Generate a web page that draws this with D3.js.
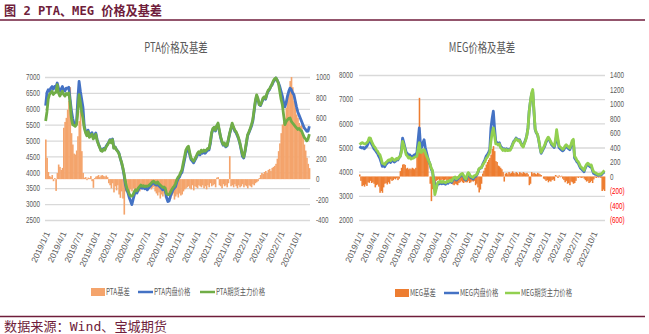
<!DOCTYPE html>
<html>
<head>
<meta charset="utf-8">
<script src="https://cdn.jsdelivr.net/npm/d3@7"></script>
<style>
html, body { margin: 0; padding: 0; background: #fff; }
svg { display: block; }
</style>
</head>
<body>
<svg id="fig" width="649" height="334"></svg>
<script>
// Weekly observations starting 2019/1/1
const startDate = "2019/1/1";

// Quarterly category labels on the date axis
const dateTicks = ["2019/1/1","2019/4/1","2019/7/1","2019/10/1","2020/1/1","2020/4/1","2020/7/1","2020/10/1",
  "2021/1/1","2021/4/1","2021/7/1","2021/10/1","2022/1/1","2022/4/1","2022/7/1","2022/10/1"];

const ptaLeftTicks = [2500, 3000, 3500, 4000, 4500, 5000, 5500, 6000, 6500, 7000];
const ptaRightTicks = [-400, -200, 0, 200, 400, 600, 800, 1000];
const megLeftTicks = [2000, 3000, 4000, 5000, 6000, 7000, 8000];
const megRightTicks = [-600, -400, -200, 0, 200, 400, 600, 800, 1000, 1200, 1400];

// PTA spot (内盘) price, yuan/t
const ptaSpot = [
  6100,6500,6600,6550,6650,6700,6620,6700,6680,6810,
  6650,6560,6620,6700,6600,6560,6650,6640,6680,6300,
  5950,5700,5550,5500,5550,6300,6860,6550,6300,6050,
  5460,5300,5200,5330,5150,5200,5250,5100,5150,5240,
  5030,4900,4800,4700,4680,4750,4720,4820,4880,4950,
  5030,4950,5050,4770,4800,4720,4670,4600,4450,4300,
  4130,3900,3610,3450,3350,3200,3100,2985,3150,3300,
  3410,3350,3450,3500,3560,3500,3520,3480,3500,3450,
  3500,3550,3600,3650,3680,3620,3600,3650,3580,3540,
  3500,3450,3480,3420,3200,3080,3100,3250,3350,3450,
  3500,3550,3700,3800,3850,3950,4000,4200,4400,4600,
  4700,4750,4550,4400,4350,4300,4380,4450,4550,4600,
  4550,4650,4600,4650,4600,4650,4700,4700,4900,5200,
  5350,5400,5300,5450,5500,5300,5100,4950,4850,4900,
  4800,4830,5000,5200,5350,5500,5400,5300,5250,5150,
  5050,4900,4700,4500,4450,4650,4900,5150,5250,5350,
  5450,5600,5900,6200,6400,6300,6150,6100,6200,6300,
  6350,6300,6450,6550,6600,6700,6750,6850,6900,6970,
  6900,6810,6700,6550,6400,6200,6060,6200,6400,6550,
  6650,6600,6500,6440,6250,6060,5900,5800,5700,5600,
  5500,5400,5350,5290,5300,5450
];

// PTA main futures contract price
const ptaFutures = [
  5616,5900,6300,6450,6500,6550,6450,6500,6520,6760,
  6500,6400,6480,6550,6450,6400,6480,6450,6500,6200,
  5700,5500,5480,5450,5500,5900,6445,6200,5900,5700,
  5400,5250,5150,5280,5100,5150,5200,5050,5100,5200,
  5000,4880,4780,4680,4660,4730,4700,4800,4860,4930,
  5010,4930,5030,4760,4790,4710,4660,4590,4440,4320,
  4150,3950,3700,3520,3420,3320,3250,3250,3300,3400,
  3450,3420,3500,3550,3600,3560,3580,3550,3570,3560,
  3580,3620,3660,3700,3720,3680,3650,3700,3640,3600,
  3560,3520,3540,3500,3330,3300,3300,3380,3450,3520,
  3560,3650,3770,3850,3900,4000,4085,4300,4500,4700,
  4780,4820,4620,4450,4400,4350,4420,4500,4600,4650,
  4600,4700,4650,4700,4660,4700,4750,4750,4950,5250,
  5380,5420,5330,5470,5550,5330,5120,4980,4880,4920,
  4830,4850,5030,5230,5380,5550,5430,5330,5280,5190,
  5080,4930,4740,4560,4480,4680,4930,5180,5270,5380,
  5500,5650,5950,6250,6440,6330,6130,6120,6220,6340,
  6380,6330,6480,6580,6620,6700,6780,6880,6940,6970,
  6900,6800,6550,6300,6130,5800,5500,5600,5650,5700,
  5710,5600,5550,5500,5450,5400,5350,5380,5330,5300,
  5200,5100,5050,4990,5050,5200
];

// PTA basis (right axis)
const ptaBasis = [
  388,209,70,30,20,40,-20,10,-115,60,
  143,120,90,110,503,560,600,680,767,900,
  450,339,250,241,280,420,568,666,274,60,
  13,20,-10,15,10,30,-20,-85,10,25,
  30,40,20,35,40,30,25,35,20,-40,
  -60,-90,-40,-130,-70,-110,-60,-150,-183,-120,
  -190,-347,-120,-110,-90,-130,-100,-120,-90,-110,
  -130,-100,-90,-120,-100,-80,-70,-90,-100,-80,
  -90,-70,-100,-85,-75,-120,-140,-160,-130,-190,
  -150,-170,-140,-180,-120,-150,-130,-190,-160,-140,
  -200,-170,-150,-180,-140,-160,-150,-120,-100,-90,
  -80,-70,-90,-100,-60,-110,-70,-80,-90,-60,
  -70,-80,-60,-90,-70,-100,-60,-80,-40,-70,
  -60,-50,-80,15,20,-60,-70,-90,-50,-70,
  -60,-80,-40,225,-70,-60,-80,-50,-70,-90,
  -60,-80,-70,-50,-80,-60,-70,-90,-60,-70,
  -80,-50,-60,-40,-30,-20,10,40,60,50,
  70,80,60,90,100,80,110,120,130,150,
  200,274,350,450,535,560,600,700,829,880,
  960,1000,900,765,700,633,600,550,520,535,
  420,339,280,209,150,108
];

// MEG spot (内盘) price
const megSpot = [
  5050,5000,4980,5000,4950,5000,5050,5150,5300,5350,
  5150,5060,4950,4900,4820,4750,4640,4550,4400,4220,
  4250,4200,4300,4350,4400,4430,4380,4500,4450,4400,
  4430,4500,4480,4570,4650,4900,5390,5200,5000,4800,
  4750,4640,4700,4600,4640,4650,4700,4700,4800,5300,
  5810,5100,5000,5200,5320,5000,4800,4600,4430,4300,
  4100,4015,3700,3400,3300,3450,3530,3500,3550,3500,
  3550,3500,3480,3550,3520,3580,3600,3550,3650,3700,
  3740,3650,3700,3740,3800,3850,3880,3800,3700,3650,
  3800,3930,3850,3750,3740,3700,3780,3800,3850,3950,
  4100,4150,4160,4290,4400,4500,4640,4700,4800,4910,
  5810,6200,6500,5810,5260,5200,5150,5200,5050,5000,
  4910,4950,4900,4950,4900,4920,4910,5000,5120,5250,
  5300,5390,5350,5300,5320,5200,5100,5050,5200,5320,
  5500,5810,6500,6900,7190,7300,6500,5740,5600,5530,
  5300,5000,4760,4850,4950,5050,5200,5300,5390,5300,
  5200,5100,5050,5000,5200,5500,5300,5000,4950,4900,
  4860,4900,5000,5050,5000,4950,4910,5050,5200,5260,
  4570,4500,4400,4360,4250,4140,4100,4050,4000,4150,
  4250,4300,4250,4200,4220,4050,3930,3900,3880,3860,
  3850,3870,3860,3900,3950,3990
];

// MEG main futures contract price
const megFutures = [
  5200,5150,5200,5180,5150,5150,5200,5250,5400,5390,
  5250,5150,5050,5000,4900,4850,4750,4700,4550,4350,
  4330,4300,4380,4420,4470,4500,4450,4560,4520,4470,
  4480,4550,4520,4600,4620,4800,5250,5100,4900,4700,
  4650,4560,4600,4520,4550,4560,4600,4620,4650,4950,
  5200,4800,4800,4900,4910,4800,4650,4550,4430,4320,
  4150,4050,3600,3050,3250,3500,3580,3560,3600,3560,
  3600,3560,3540,3600,3580,3620,3650,3600,3700,3750,
  3780,3700,3750,3780,3850,3900,3930,3850,3750,3700,
  3850,3960,3900,3800,3790,3760,3830,3850,3880,3980,
  4120,4160,4170,4270,4350,4420,4550,4600,4700,4800,
  5260,5600,5810,5500,5150,5150,5100,5150,5000,4950,
  4880,4920,4870,4920,4870,4890,4880,4970,5090,5220,
  5270,5360,5320,5270,5290,5170,5070,5020,5170,5290,
  5480,5790,6480,6900,7250,7400,6550,5780,5620,5550,
  5320,5030,4800,4900,5000,5100,5250,5350,5430,5350,
  5250,5150,5100,5060,5300,5740,5400,5080,5020,4980,
  4930,4960,5060,5110,5060,5010,4970,5120,5280,5340,
  4650,4570,4460,4420,4320,4210,4170,4110,4060,4200,
  4300,4350,4310,4260,4280,4110,3990,3960,3940,3900,
  3880,3900,3890,3940,3990,4050
];

// MEG basis (right axis)
const megBasis = [
  28,-60,-133,-120,-140,-110,-130,-80,-87,-60,
  -90,-80,-100,-150,-120,-110,-140,-225,-200,-225,
  -150,-100,-90,-110,-80,-100,-40,-60,-50,-30,
  -40,-20,-50,-30,74,120,165,170,160,110,
  120,100,110,100,120,110,100,120,303,350,
  1085,441,349,360,340,350,300,257,0,-100,
  -340,-175,-120,-150,-60,-50,-40,-60,-50,-40,
  -60,-50,-40,-60,-50,-40,-60,-100,-110,-120,
  -100,-110,-120,-90,-80,-60,-80,-90,-70,-80,
  -80,-60,-90,-80,-60,-70,-60,-120,-100,-150,
  -220,-180,-100,40,80,120,165,200,230,257,
  300,380,419,350,212,200,150,140,120,100,
  60,-70,40,50,30,60,40,50,70,50,
  40,60,50,30,60,50,40,60,50,40,
  50,30,-120,-100,60,40,50,40,30,50,
  40,30,20,0,-30,-40,-60,-50,-80,-60,
  -70,-50,-40,-60,20,10,-20,15,-10,10,
  -30,-50,-80,-60,-100,-90,-120,-70,-80,-100,
  -90,-60,-10,-20,-10,-15,-20,-10,-30,-50,
  -70,-60,-90,-80,-60,-90,-40,-10,-20,-10,
  -15,-10,-20,-200,-180,-200
];

const svg = d3.select("#fig");
const GRAY = "#595959";
const MAROON = "#6F1D3B";
const LATIN = "'Liberation Sans', Arial, 'Noto Sans CJK SC', sans-serif";
const CJK = "'Noto Sans CJK SC', 'Liberation Sans', sans-serif";

const parseDay = s => { const [y, m, d] = s.split("/").map(Number); return new Date(y, m - 1, d); };
const t0 = parseDay(startDate);

// narrow the glyphs horizontally, keeping the anchor point
function squeeze(sel, k) {
  sel.each(function () {
    const w = this.getComputedTextLength();
    this.setAttribute("textLength", (w * k).toFixed(2));
    this.setAttribute("lengthAdjust", "spacingAndGlyphs");
  });
}

// Header and footer
svg.append("text").attr("x", 4).attr("y", 14.5)
  .attr("font-family", "'DejaVu Sans Mono', 'Noto Sans CJK SC', monospace")
  .attr("font-weight", "bold").attr("font-size", 13).attr("fill", MAROON)
  .text("图 2 PTA、MEG 价格及基差")
  .attr("textLength", 158).attr("lengthAdjust", "spacingAndGlyphs");
svg.append("line").attr("x1", 0).attr("x2", 645).attr("y1", 20).attr("y2", 20)
  .attr("stroke", MAROON).attr("stroke-width", 1.3);
svg.append("line").attr("x1", 0).attr("x2", 645).attr("y1", 316.5).attr("y2", 316.5)
  .attr("stroke", MAROON).attr("stroke-width", 1.3);
svg.append("text").attr("x", 4).attr("y", 331)
  .attr("font-family", "'DejaVu Sans Mono', 'Noto Sans CJK SC', monospace")
  .attr("font-size", 13).attr("fill", MAROON)
  .text("数据来源：Wind、宝城期货")
  .attr("textLength", 163).attr("lengthAdjust", "spacingAndGlyphs");

function drawChart(cfg) {
  const n = cfg.spot.length;
  const dates = d3.range(n + 1).map(i => d3.timeDay.offset(t0, 7 * i));
  const x = d3.scaleTime().domain([dates[0], dates[n]]).range([cfg.left, cfg.right]);
  const yL = d3.scaleLinear().domain(d3.extent(cfg.leftTicks)).range([cfg.bottom, cfg.top]);
  const yR = d3.scaleLinear().domain(d3.extent(cfg.rightTicks)).range([cfg.bottom, cfg.top]);
  const g = svg.append("g");

  // chart title
  g.append("text").attr("x", cfg.titleX).attr("y", 52).attr("text-anchor", "middle")
    .attr("font-family", CJK).attr("font-size", 13).attr("fill", GRAY)
    .text(cfg.title).call(squeeze, 0.72);

  // horizontal gridlines
  g.append("g").attr("transform", `translate(${cfg.left},0)`)
    .call(d3.axisLeft(yL).tickValues(cfg.leftTicks).tickSize(-(cfg.right - cfg.left)).tickFormat(""))
    .call(s => s.select(".domain").remove())
    .selectAll("line").attr("stroke", "#D9D9D9").attr("stroke-width", 1.3);

  // basis columns
  g.append("g").selectAll("rect").data(cfg.basis).join("rect")
    .attr("x", (d, i) => x(dates[i]))
    .attr("width", (d, i) => x(dates[i + 1]) - x(dates[i]) + 0.35)
    .attr("y", d => yR(Math.max(0, d)))
    .attr("height", d => Math.abs(yR(d) - yR(0)))
    .attr("fill", cfg.basisColor);

  // price lines
  const mid = i => (x(dates[i]) + x(dates[i + 1])) / 2;
  const line = d3.line().x((d, i) => mid(i)).y(d => yL(d));
  g.append("path").datum(cfg.spot).attr("d", line)
    .attr("fill", "none").attr("stroke", "#4472C4").attr("stroke-width", 2.8).attr("stroke-linejoin", "round");
  g.append("path").datum(cfg.futures).attr("d", line)
    .attr("fill", "none").attr("stroke", cfg.futColor).attr("stroke-width", 2.8).attr("stroke-linejoin", "round");

  // left value axis
  const la = g.append("g").attr("transform", `translate(${cfg.left},0)`)
    .call(d3.axisLeft(yL).tickValues(cfg.leftTicks).tickSize(0).tickPadding(cfg.padL).tickFormat(d3.format("d")));
  la.select(".domain").remove();
  la.selectAll("text").attr("font-family", LATIN).attr("font-size", 8.5).attr("fill", GRAY).call(squeeze, 0.74);

  // right basis axis
  const ra = g.append("g").attr("transform", `translate(${cfg.right},0)`)
    .call(d3.axisRight(yR).tickValues(cfg.rightTicks).tickSize(0).tickPadding(cfg.padR).tickFormat(cfg.rightFormat));
  ra.select(".domain").remove();
  ra.selectAll("text").attr("font-family", LATIN).attr("font-size", 8.5)
    .attr("fill", d => (cfg.redNegatives && d < 0) ? "#FF0000" : GRAY).call(squeeze, 0.74);

  // date axis
  const xa = g.append("g").attr("transform", `translate(0,${cfg.bottom})`)
    .call(d3.axisBottom(x).tickValues(dateTicks.map(parseDay)).tickSize(0)
      .tickFormat((d, i) => dateTicks[i]));
  xa.select(".domain").remove();
  xa.selectAll("text").attr("font-family", LATIN).attr("font-size", 8.5).attr("fill", GRAY)
    .attr("text-anchor", "end").attr("x", 0).attr("y", 0).attr("dy", "0.35em")
    .attr("transform", "translate(2,12) rotate(-65)");

  // legend
  const lg = g.append("g").attr("transform", `translate(0,${cfg.legendY})`)
    .attr("font-family", CJK).attr("font-size", 9).attr("fill", GRAY);
  const L = cfg.legendX;
  lg.append("rect").attr("x", L[0]).attr("y", -4).attr("width", 14).attr("height", 8).attr("fill", cfg.basisColor);
  lg.append("line").attr("x1", L[1]).attr("x2", L[1] + 15).attr("y1", 0).attr("y2", 0)
    .attr("stroke", "#4472C4").attr("stroke-width", 2.5);
  lg.append("line").attr("x1", L[2]).attr("x2", L[2] + 15).attr("y1", 0).attr("y2", 0)
    .attr("stroke", cfg.futColor).attr("stroke-width", 2.5);
  cfg.legendNames.forEach((name, k) => {
    lg.append("text").attr("x", L[k] + (k === 0 ? 15 : 16)).attr("y", 0).attr("dy", "0.35em")
      .text(name).call(squeeze, 0.7);
  });
}

drawChart({
  title: "PTA价格及基差", titleX: 176,
  left: 45, right: 310, top: 77, bottom: 220,
  leftTicks: ptaLeftTicks, rightTicks: ptaRightTicks,
  spot: ptaSpot, futures: ptaFutures, basis: ptaBasis,
  basisColor: "#F4A46C", futColor: "#70AD47",
  padL: 5, padR: 6, rightFormat: d => String(d), redNegatives: false,
  legendY: 292, legendX: [91, 138, 200],
  legendNames: ["PTA基差", "PTA内盘价格", "PTA期货主力价格"]
});

drawChart({
  title: "MEG价格及基差", titleX: 482,
  left: 359, right: 605, top: 75, bottom: 220,
  leftTicks: megLeftTicks, rightTicks: megRightTicks,
  spot: megSpot, futures: megFutures, basis: megBasis,
  basisColor: "#ED7D31", futColor: "#92D050",
  padL: 6, padR: 5, rightFormat: d => d < 0 ? `(${-d})` : String(d), redNegatives: true,
  legendY: 293, legendX: [395, 444, 505],
  legendNames: ["MEG基差", "MEG内盘价格", "MEG期货主力价格"]
});
</script>
</body>
</html>
